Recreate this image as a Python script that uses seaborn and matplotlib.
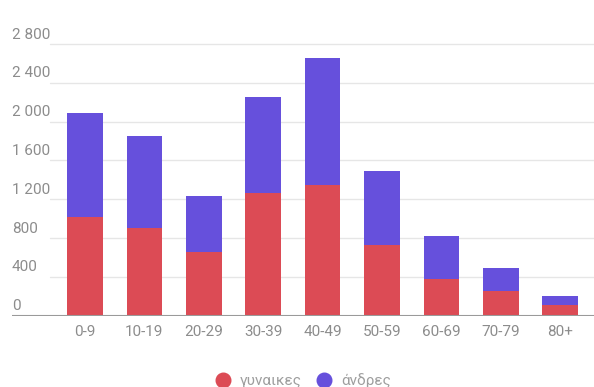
import matplotlib
matplotlib.use("Agg")
import matplotlib.pyplot as plt
import matplotlib.transforms as mtransforms
from matplotlib.lines import Line2D
import seaborn as sns
import pandas as pd

# Age groups and counts per sex
age_groups = ["0-9", "10-19", "20-29", "30-39", "40-49", "50-59", "60-69", "70-79", "80+"]
women = [1017, 907, 660, 1268, 1344, 729, 378, 258, 110]
men = [1075, 948, 570, 986, 1308, 762, 440, 237, 96]
y_ticks = [0, 400, 800, 1200, 1600, 2000, 2400, 2800]
y_tick_labels = ["0", "400", "800", "1 200", "1 600", "2 000", "2 400", "2 800"]
legend_labels = ["γυναικες", "άνδρες"]

RED = "#dc4b55"
BLUE = "#6650dc"
TEXT = "#8c8c8c"

sns.set_theme(style="white")
plt.rcParams["font.family"] = ["Roboto", "DejaVu Sans"]

df = pd.DataFrame({"age": age_groups, "women": women, "men": men})
df["total"] = df["women"] + df["men"]

W, H = 594, 387
fig = plt.figure(figsize=(W / 100, H / 100), dpi=100)
ax = fig.add_axes([12 / W, 1 - 315.7 / H, (594 - 12) / W, (315.7 - 24.6) / H])

# Stacked bars: total in blue, women drawn over it in red
sns.barplot(data=df, x="age", y="total", color=BLUE, width=0.6, saturation=1,
            ax=ax, zorder=3, linewidth=0)
sns.barplot(data=df, x="age", y="women", color=RED, width=0.6, saturation=1,
            ax=ax, zorder=4, linewidth=0)

ax.set_xlim((12 - 85) / 59.4, (594 - 85) / 59.4)
ax.set_ylim(0, 3000)
for s in ax.spines.values():
    s.set_visible(False)
ax.set_xlabel("")
ax.set_ylabel("")

# Horizontal gridlines and baseline
for v in y_ticks[1:]:
    ax.axhline(v, xmin=(50 - 12) / 582, xmax=1, color="#e6e6e6", lw=1.0, zorder=1)
ax.axhline(0, xmin=0, xmax=1, color="#9a9a9a", lw=1.5, zorder=5)

# Y labels sit above their gridlines, left aligned
ax.set_yticks([])
offset = mtransforms.ScaledTranslation(0, 9.5 / 100, fig.dpi_scale_trans)
trans = mtransforms.blended_transform_factory(ax.transAxes, ax.transData) + offset
for v, lab in zip(y_ticks, y_tick_labels):
    ax.text(0, v, lab, transform=trans, ha="left", va="center",
            fontsize=11, color=TEXT)

ax.tick_params(axis="x", length=0, pad=7, labelsize=11, labelcolor=TEXT)

handles = [Line2D([], [], marker="o", linestyle="", markersize=10.5,
                  markerfacecolor=c, markeredgecolor=c) for c in (RED, BLUE)]
fig.legend(handles, legend_labels, loc="center", ncol=2, frameon=False,
           bbox_to_anchor=(303 / W, 1 - 380.7 / H), fontsize=11,
           labelcolor="#9e9e9e", handletextpad=0.6, columnspacing=1.0,
           handlelength=1.0)

fig.savefig("out.png", dpi=100, facecolor="white")
